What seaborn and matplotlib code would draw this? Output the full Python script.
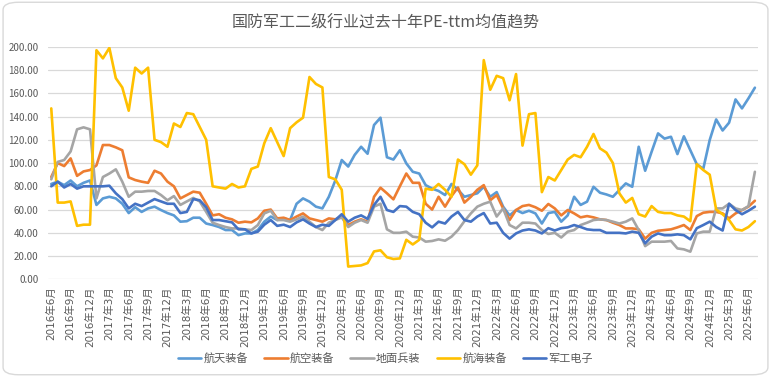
import matplotlib
matplotlib.use('Agg')
import matplotlib.pyplot as plt
from matplotlib.patches import FancyBboxPatch
import pandas as pd
import seaborn as sns

# 月度数据 2016年6月 起, 共110个月
months = pd.date_range('2016-06-01', periods=110, freq='MS')
month_labels = [f'{d.year}年{d.month}月' for d in months]

series_names = ['航天装备', '航空装备', '地面兵装', '航海装备', '军工电子']
series_colors = ['#5B9BD5', '#ED7D31', '#A5A5A5', '#FFC000', '#4472C4']

hangtian = [82, 84, 81, 85, 80, 83, 85, 64, 69.6, 71, 69.6, 65, 57, 62, 58, 61, 62.5, 59.6, 57, 55, 49.6, 50, 53, 53,
            48, 46.7, 45, 42.4, 42.4, 38, 39.5, 39.5, 42.4, 49.6, 54, 51, 52.4, 51, 65, 69.6, 66.8, 62.5, 61,
            71, 85, 102.6, 97, 107, 114, 108, 132.7, 139, 105, 103, 111, 99.7, 92.5, 91, 81, 78, 76, 72.5, 82, 77, 71,
            72.5, 74, 79.6, 71, 75, 62.5, 55, 59.6, 57, 59, 56.7, 48, 57, 58, 49.6, 55, 71, 64, 66.8, 79.6, 74.5, 73,
            71, 76.8, 82.5, 79.6, 114, 93.4, 109.7, 125.5, 121, 122.6, 107.7, 123, 111, 99, 95, 119.8, 137.5, 128,
            134.7, 154.7, 147, 155.6, 164.8]

hangkong = [88, 100, 97.4, 104, 89, 92.8, 94, 98, 115.5, 115.5, 113.5, 111, 87.7, 85.4, 84, 83, 93.4, 91, 84, 80,
            69.6, 72.5, 75.4, 74.5,
            65, 55, 56, 53, 51.6, 48.7, 49.6, 49, 52.4, 59, 60, 52.4, 53, 51, 54, 56.7, 52.4, 51, 49.6,
            52.4, 51.6, 54, 46.7, 49.6, 51.6, 49.6, 71, 78.8, 74, 68.8, 80, 91, 83, 83, 65, 60, 71, 62.5, 71.6, 79, 66,
            71, 77, 81, 68, 72.5, 61, 51, 59.6, 63, 64, 62, 59, 64.8, 61, 55, 59.6, 56.7, 53.3, 54.4, 53.3, 51.6, 51,
            48.7, 46.7, 43.8, 43.8, 43, 35, 40, 41.8, 42.4, 43, 44.7, 46.7, 42.4, 54.4, 57.3, 58, 58, 56.7, 52.4,
            56.7, 59.6, 62.5, 67.6]

dimian = [86, 101, 102.6, 110, 129, 130.7, 129, 69.6, 88, 91, 94.6, 84, 71, 75.4, 75.4, 76, 76, 72.5, 68, 71.6, 64,
          67, 70, 67, 58, 48.7, 46.7, 45, 43.8, 43.8, 43, 42.4, 46.7, 56.7, 59, 51, 51, 49.6, 51.6, 54, 49.6, 45, 42.4,
          48.7, 51, 53.3, 45, 48.7, 51, 48.7, 62.5, 65, 43, 40, 40, 41, 36.7, 36, 32.4, 33, 34.4, 33.2, 36.7, 42.4, 50,
          56.7, 62.5, 65, 66.8, 54, 61, 46.7, 43.8, 48.7, 48.7, 48, 42.4, 39, 40, 36, 41, 42.4, 46.7, 48.7, 51, 51.6, 51,
          49.6, 48, 49.6, 52.4, 42.4, 28.6, 32.4, 32.4, 32.4, 33, 26.6, 25.8, 23.8, 39.5, 41, 41, 61, 61, 65, 61,
          59.6, 63, 92.5]

hanghai = [147, 66, 66, 67, 46, 47, 47, 197, 190, 199, 173, 165, 145, 182, 177, 182, 120, 118, 114, 134, 131,
           143, 142, 131, 120, 80, 79, 78, 82, 79, 80, 95, 97, 117, 130, 118, 106, 130, 135, 139, 174, 168, 165,
           88, 86, 77, 11, 11.5, 12, 14, 24, 25, 19, 17.5, 18, 34, 30, 34, 78, 77, 82, 77, 71, 103, 99,
           90, 98, 188.5, 163, 175, 173, 154, 176.5, 115, 142, 143, 75, 88, 85, 94, 103, 107, 105, 114, 125, 112.6,
           109, 100, 74, 66, 70, 56, 54, 63, 58, 57, 57, 55, 54, 50, 99, 94, 90, 60, 56, 51, 43, 42, 45, 50]

jungong = [80, 84, 79, 82, 78, 80, 80, 80, 80, 80.5, 74, 69, 61, 65, 63, 66, 69, 67, 65, 65, 57, 58, 69, 68,
           62, 51, 51, 50, 49, 43, 43, 39.5, 41, 47, 51, 46, 47, 45, 49, 51.6, 48, 45, 47,
           46, 51, 56, 49.6, 53, 55, 52, 64, 71, 59.6, 58, 63, 62.5, 58, 56, 48.7, 44.7, 49.6, 48, 54, 58, 51,
           49.6, 54, 57, 48, 48.7, 40, 35, 39.5, 42, 43, 42, 39.5, 44, 42, 44, 44.7, 46.7, 45, 43, 42.4, 42.4, 40,
           40, 40, 39.5, 41, 40, 31, 36.7, 39.5, 38, 38, 38.7, 38, 34.4, 44, 46.7, 49.6, 45, 42, 65, 59.6, 56,
           59, 62.5]

wide = pd.DataFrame({'idx': range(len(month_labels)),
                     '航天装备': hangtian, '航空装备': hangkong, '地面兵装': dimian,
                     '航海装备': hanghai, '军工电子': jungong})
df = wide.melt(id_vars='idx', var_name='series', value_name='value')

sns.set_theme(style='white')
plt.rcParams['font.family'] = ['Noto Sans CJK SC', 'DejaVu Sans']
text_color = '#595959'

fig = plt.figure(figsize=(7.71, 3.77), dpi=100)
ax = fig.add_axes([0.0623, 0.259, 0.921, 0.617])

sns.lineplot(data=df, x='idx', y='value', hue='series', hue_order=series_names,
             palette=series_colors, linewidth=1.9, ax=ax)

ax.set_xlim(-0.5, len(month_labels) - 0.5)
ax.set_ylim(0, 200)
ax.set_yticks(range(0, 201, 20))
ax.set_yticklabels([f'{v:.2f}' for v in range(0, 201, 20)], fontsize=7, color=text_color)
tick_pos = list(range(0, len(month_labels), 3))
ax.set_xticks(tick_pos)
ax.set_xticklabels([month_labels[i] for i in tick_pos], rotation=90, fontsize=7.5, color=text_color,
                   family=['DejaVu Sans', 'Noto Sans CJK SC'])
ax.tick_params(axis='both', length=0)
ax.tick_params(axis='y', pad=7)
ax.tick_params(axis='x', pad=5)
ax.set_xlabel('')
ax.set_ylabel('')
ax.yaxis.grid(True, color='#D9D9D9', linewidth=0.9)
ax.xaxis.grid(False)
ax.set_axisbelow(True)
for s in ax.spines.values():
    s.set_visible(False)

sns.move_legend(ax, 'center', bbox_to_anchor=(0.5, 0.05), bbox_transform=fig.transFigure,
                ncol=5, frameon=False, title=None, fontsize=8, handlelength=2.1,
                handletextpad=0.2, columnspacing=1.45, labelcolor=text_color)

fig.text(0.5, 0.9425, '国防军工二级行业过去十年PE-ttm均值趋势', ha='center', va='center',
         fontsize=11.5, color=text_color)

# 图表外框
border = FancyBboxPatch((0.004, 0.006), 0.992, 0.988, boxstyle='round,pad=0,rounding_size=0.02',
                        transform=fig.transFigure, facecolor='none', edgecolor='#D9D9D9', linewidth=1)
fig.patches.append(border)

fig.savefig('out.png', dpi=100)
